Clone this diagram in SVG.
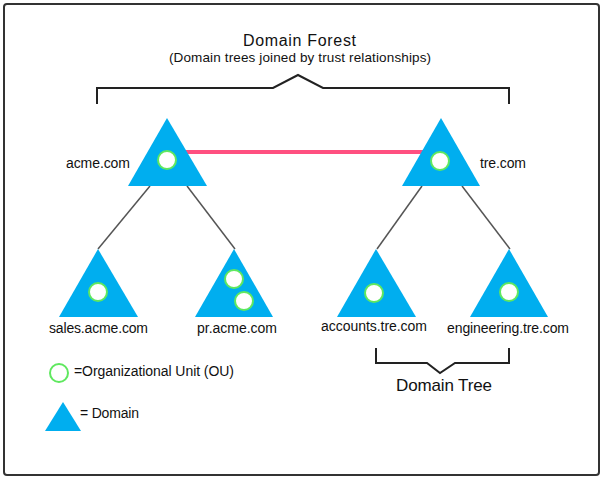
<svg xmlns="http://www.w3.org/2000/svg" width="604" height="480" viewBox="0 0 604 480">
<style>
text{font-family:"Liberation Sans",Arial,sans-serif;fill:#111}
.lbl{font-size:14px}
.big{font-size:17px}
.dom{fill:#00aeef}
.ou{fill:#fff;stroke:#5fe85f;stroke-width:2}
.br{fill:none;stroke:#222;stroke-width:2}
.edge{stroke:#555;stroke-width:1.5;fill:none}
</style>
<rect x="0" y="0" width="604" height="480" fill="#fff"/>
<rect x="4" y="4" width="595" height="471" rx="3" fill="none" stroke="#333" stroke-width="2"/>

<g id="forest-label">
<text x="243" y="46" font-size="16" textLength="113">Domain Forest</text>
<text x="169" y="62" font-size="13.5" textLength="262">(Domain trees joined by trust relationships)</text>
<path class="br" d="M97,104 V88 H273 L298,75 L323,88 H509 V104"/>
</g>

<g id="connectors">
<line x1="167" y1="152" x2="441" y2="152" stroke="#ff5080" stroke-width="4"/>
<line class="edge" x1="150" y1="186" x2="98" y2="249"/>
<line class="edge" x1="187" y1="186" x2="235" y2="249"/>
<line class="edge" x1="422" y1="186" x2="377" y2="249"/>
<line class="edge" x1="462" y1="186" x2="510" y2="249"/>
</g>

<g id="acme">
<polygon class="dom" points="167,118 128,186 207,186"/>
<circle class="ou" cx="167" cy="160" r="9"/>
<text class="lbl" x="66" y="168" textLength="64">acme.com</text>
</g>

<g id="tre">
<polygon class="dom" points="441,118 402,186 480,186"/>
<circle class="ou" cx="440" cy="161" r="9"/>
<text class="lbl" x="480" y="168" textLength="46">tre.com</text>
</g>

<g id="sales">
<polygon class="dom" points="98,249 59,317 138,317"/>
<circle class="ou" cx="98" cy="292" r="9"/>
<text class="lbl" x="49" y="333" textLength="99">sales.acme.com</text>
</g>

<g id="pr">
<polygon class="dom" points="234,249 195,317 273,317"/>
<circle class="ou" cx="234" cy="279" r="9"/>
<circle class="ou" cx="244" cy="301" r="9"/>
<text class="lbl" x="197" y="333" textLength="80">pr.acme.com</text>
</g>

<g id="accounts">
<polygon class="dom" points="376,249 337,317 416,317"/>
<circle class="ou" cx="374" cy="293" r="9"/>
<text class="lbl" x="321" y="331" textLength="106">accounts.tre.com</text>
</g>

<g id="engineering">
<polygon class="dom" points="509,249 470,317 548,317"/>
<circle class="ou" cx="509" cy="292" r="9"/>
<text class="lbl" x="447" y="333" textLength="122">engineering.tre.com</text>
</g>

<g id="tree-label">
<path class="br" d="M376,348 V363 H427 L440,373 L455,363 H509 V348"/>
<text class="big" x="396" y="391" textLength="96">Domain Tree</text>
</g>

<g id="legend">
<circle class="ou" cx="59" cy="373" r="9"/>
<text class="lbl" x="74" y="376" textLength="160">=Organizational Unit (OU)</text>
<polygon class="dom" points="63,402 45,431 81,431"/>
<text class="lbl" x="80" y="418" textLength="59">= Domain</text>
</g>
</svg>
